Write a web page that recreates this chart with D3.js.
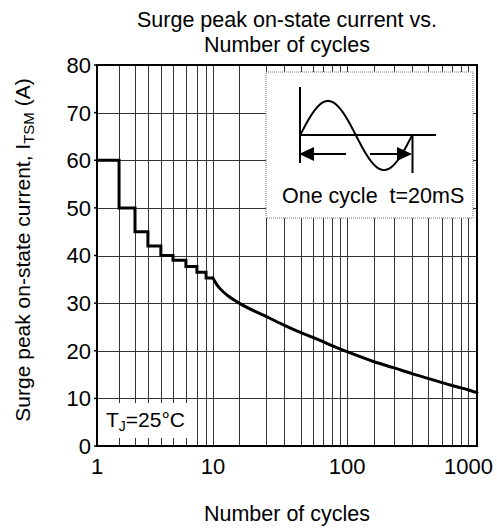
<!DOCTYPE html>
<html><head><meta charset="utf-8">
<script src="https://cdn.jsdelivr.net/npm/d3@7"></script>
<style>
html,body{margin:0;padding:0;background:#fff;}
svg{display:block;font-family:"Liberation Sans",Arial,sans-serif;}
</style></head>
<body>
<svg id="c" width="497" height="529"></svg>
<script>
// ---------------- data ----------------
const title = ["Surge peak on-state current vs.", "Number of cycles"];
const xLabel = "Number of cycles";
const yTicks = [0,10,20,30,40,50,60,70,80];
const xTickLabels = [1,10,100,1000];
const gridCycles = [1,2,3,4,5,6,7,8,9,10,20,30,40,50,60,70,80,90,100,200,300,400,500,600,700,800,900,1000];
// stepped part (integer cycles)
const stepCycles  = [1,2,3,4,5,6,7,8,9,10];
const stepCurrent = [60,50,45,42,40,39,37.7,36.5,35.3,35.3];
// continuous part
const curveCycles  = [10,11,12,15,20,30,40,50,60,70,80,90,100,200,300,400,500,600,700,800,900,1000];
const curveCurrent = [35.3,34.0,33.1,31.5,30.0,27.2,25.4,23.8,22.8,21.9,21.1,20.4,19.8,17.7,16.4,15.2,14.2,13.3,12.7,12.2,11.8,11.2];

// ---------------- layout ----------------
const svg = d3.select("#c");
const L = 97, R = 477, T = 65, B = 446;
// printed log paper is non-uniform: relative position of each grid line
const gridFrac = [0,.058,.100,.134,.168,.200,.234,.263,.287,.305,
                  .374,.445,.492,.537,.568,.595,.618,.639,.658,
                  .729,.782,.829,.871,.908,.934,.958,.976,1];
const x = d3.scaleLinear()
  .domain(gridCycles.map(v => Math.log10(v)))
  .range(gridFrac.map(f => L + f*(R-L)));
const X = v => x(Math.log10(v));
const y = d3.scaleLinear().domain([0,80]).range([B,T]);

// grid
const g = svg.append("g");
g.selectAll("line.v").data(gridCycles.slice(1,-1)).join("line")
  .attr("x1", d => Math.round(X(d))+0.5).attr("x2", d => Math.round(X(d))+0.5)
  .attr("y1", T).attr("y2", B).attr("stroke","#333").attr("stroke-width",1);
g.selectAll("line.h").data(yTicks.slice(1,-1)).join("line")
  .attr("y1", d => Math.round(y(d))+0.5).attr("y2", d => Math.round(y(d))+0.5)
  .attr("x1", L).attr("x2", R).attr("stroke","#333").attr("stroke-width",1);

// white label boxes over grid
svg.append("rect").attr("x",266).attr("y",72).attr("width",207).attr("height",146)
  .attr("fill","#fff").attr("stroke","#777").attr("stroke-dasharray","1,1").attr("stroke-width",1);
svg.append("rect").attr("x",L+1).attr("y",403).attr("width",95).attr("height",35).attr("fill","#fff");

// frame
svg.append("rect").attr("x",L).attr("y",T).attr("width",R-L).attr("height",B-T)
  .attr("fill","none").attr("stroke","#000").attr("stroke-width",2);

// y axis ticks & labels
const ya = svg.append("g");
ya.selectAll("line").data(yTicks).join("line")
  .attr("x1",L-3).attr("x2",L).attr("y1",d=>y(d)).attr("y2",d=>y(d)).attr("stroke","#000").attr("stroke-width",1.5);
ya.selectAll("text").data(yTicks).join("text")
  .attr("x",L-6).attr("y",d=>y(d)).attr("dy","0.36em").attr("text-anchor","end")
  .attr("font-size",22).attr("fill","#000").text(d=>d);

// x tick labels
svg.append("g").selectAll("text").data(xTickLabels).join("text")
  .attr("x",d=>Math.min(X(d), 497-4-d3.format("d")(d).length*6.1))
  .attr("y",474).attr("text-anchor","middle").attr("font-size",22).attr("fill","#000").text(d=>d);

// title
svg.append("g").selectAll("text").data(title).join("text")
  .attr("x",(L+R)/2).attr("y",(d,i)=>27+i*25).attr("text-anchor","middle")
  .attr("font-size",21.5).attr("fill","#000").text(d=>d);
// x label
svg.append("text").attr("x",(L+R)/2).attr("y",521).attr("text-anchor","middle")
  .attr("font-size",21.5).attr("fill","#000").text(xLabel);
// y label
const yl = svg.append("text").attr("transform","translate(30,250) rotate(-90)")
  .attr("text-anchor","middle").attr("font-size",21).attr("fill","#000");
yl.append("tspan").text("Surge peak on-state current, I");
yl.append("tspan").attr("font-size",15).attr("dy",4).text("TSM");
yl.append("tspan").attr("dy",-4).text(" (A)");

// T_J label
const tj = svg.append("text").attr("x",106).attr("y",427).attr("font-size",21).attr("fill","#000");
tj.append("tspan").text("T");
tj.append("tspan").attr("font-size",14).attr("dy",4).text("J");
tj.append("tspan").attr("dy",-4).text("=25°C");

// data lines
const stepLine = d3.line().x(d=>X(d[0])).y(d=>y(d[1])).curve(d3.curveStepAfter);
svg.append("path").datum(stepCycles.map((c,i)=>[c,stepCurrent[i]]))
  .attr("d",stepLine).attr("fill","none").attr("stroke","#000").attr("stroke-width",3);
const curveLine = d3.line().x(d=>X(d[0])).y(d=>y(d[1])).curve(d3.curveMonotoneX);
svg.append("path").datum(curveCycles.map((c,i)=>[c,curveCurrent[i]]))
  .attr("d",curveLine).attr("fill","none").attr("stroke","#000").attr("stroke-width",3)
  .attr("stroke-linecap","round");

// inset illustration: one sine cycle
const ins = svg.append("g");
const ph = d3.scaleLinear().domain([0,2*Math.PI]).range([300,412]);
const amp = d3.scaleLinear().domain([-1,1]).range([170,101]);
const wave = d3.range(0,2*Math.PI+0.001,Math.PI/40);
ins.append("path").datum(wave)
  .attr("d", d3.line().x(t=>ph(t)).y(t=>amp(Math.sin(t))))
  .attr("fill","none").attr("stroke","#000").attr("stroke-width",2);
ins.append("line").attr("x1",300).attr("x2",300).attr("y1",87).attr("y2",163).attr("stroke","#000").attr("stroke-width",2);
ins.append("line").attr("x1",300).attr("x2",436).attr("y1",135).attr("y2",135).attr("stroke","#000").attr("stroke-width",2);
ins.append("line").attr("x1",412.5).attr("x2",412.5).attr("y1",135).attr("y2",173).attr("stroke","#000").attr("stroke-width",2);
ins.append("line").attr("x1",310).attr("x2",346).attr("y1",154).attr("y2",154).attr("stroke","#000").attr("stroke-width",2);
ins.append("line").attr("x1",370).attr("x2",402).attr("y1",154).attr("y2",154).attr("stroke","#000").attr("stroke-width",2);
ins.append("path").attr("d","M299,154 L314,147 L314,161 Z").attr("fill","#000");
ins.append("path").attr("d","M412,154 L397,147 L397,161 Z").attr("fill","#000");
ins.append("text").attr("x",282).attr("y",203).attr("font-size",21.5).attr("fill","#000")
  .attr("xml:space","preserve").style("white-space","pre").text("One cycle  t=20mS");
</script>
</body></html>
